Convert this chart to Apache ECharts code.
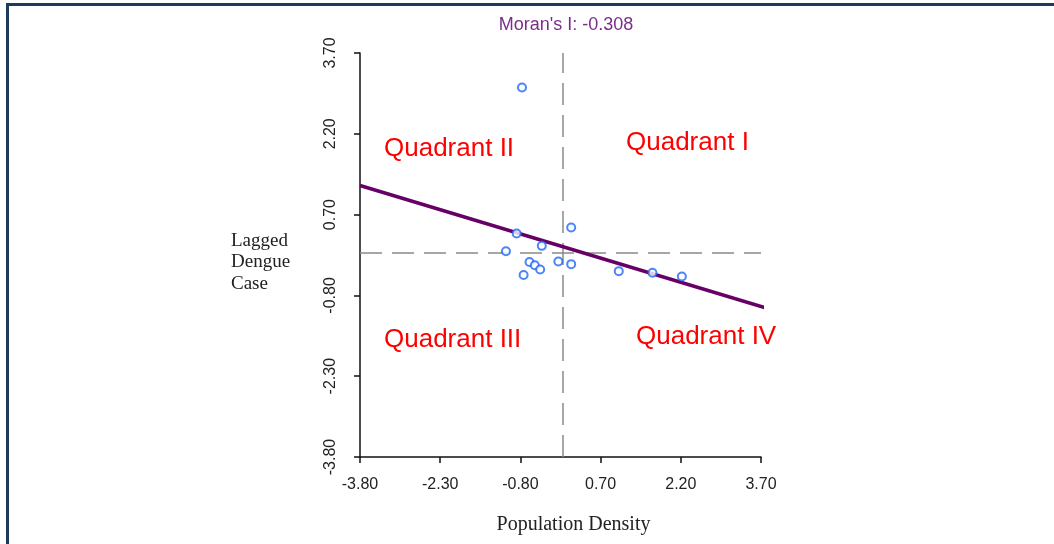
<!DOCTYPE html>
<html>
<head>
<meta charset="utf-8">
<script src="https://cdn.jsdelivr.net/npm/echarts@6/dist/echarts.min.js"></script>
<style>
  html, body { margin: 0; padding: 0; background: #fff; }
  #chart { width: 1054px; height: 544px; }
</style>
</head>
<body>
<div id="chart"></div>
<script>
// 散点：人口密度 (x) 与 滞后登革热病例 (y)
const pointX = [-0.87, -1.07, -0.40, 0.15, -0.63, -0.53, -0.43, -0.74, -0.09, 0.15, 1.04, 1.67, 2.22, -0.77];
const pointY = [0.35, 0.02, 0.12, 0.46, -0.18, -0.24, -0.32, -0.42, -0.17, -0.22, -0.35, -0.38, -0.45, 3.06];
// 回归线两端
const lineX = [-3.8, 3.78];
const lineY = [1.24, -1.03];
// 坐标轴刻度
const tickValues = [-3.8, -2.3, -0.8, 0.7, 2.2, 3.7];
const quadrantNames = ['Quadrant I', 'Quadrant II', 'Quadrant III', 'Quadrant IV'];

const myChart = echarts.init(document.getElementById('chart'));

const axisCommon = {
  type: 'value',
  min: -3.8,
  max: 3.7,
  splitLine: { show: false },
  axisLine: { show: true, onZero: false, lineStyle: { color: '#111', width: 1.5 } },
  axisTick: { show: true, length: 6, customValues: tickValues, lineStyle: { color: '#111', width: 1.5 } },
  axisLabel: {
    customValues: tickValues,
    color: '#222',
    fontFamily: 'Liberation Sans, Arial, sans-serif',
    fontSize: 16,
    formatter: function (v) { return v.toFixed(2); }
  }
};

const redText = {
  fill: '#ff0000',
  fontFamily: 'Liberation Sans, Arial, sans-serif',
  fontSize: 26
};

let option = {
  animation: false,
  backgroundColor: '#fff',
  title: {
    text: "Moran's I: -0.308",
    left: 561,
    top: 11,
    textAlign: 'center',
    textStyle: {
      color: '#7b2d8b',
      fontFamily: 'Liberation Sans, Arial, sans-serif',
      fontSize: 18,
      fontWeight: 'normal'
    }
  },
  grid: { left: 360, right: 293, top: 53, bottom: 87 },
  xAxis: Object.assign({}, axisCommon, {
    name: 'Population Density',
    nameLocation: 'middle',
    nameGap: 58,
    nameTextStyle: {
      color: '#222', fontFamily: 'Liberation Serif, Times New Roman, serif', fontSize: 20,
      padding: [0, 0, 0, 26]
    },
    axisLabel: Object.assign({}, axisCommon.axisLabel, { margin: 20 })
  }),
  yAxis: Object.assign({}, axisCommon, {
    axisLabel: Object.assign({}, axisCommon.axisLabel, { rotate: 90, margin: 21 })
  }),
  graphic: [
    // 外框
    { type: 'rect', shape: { x: 6, y: 3, width: 1060, height: 3 }, style: { fill: '#1f3a5a' } },
    { type: 'rect', shape: { x: 6, y: 3, width: 3, height: 560 }, style: { fill: '#1f3a5a' } },
    {
      type: 'text', left: 231, top: 230,
      style: {
        text: 'Lagged\nDengue\nCase', fill: '#222',
        fontFamily: 'Liberation Serif, Times New Roman, serif', fontSize: 19, lineHeight: 21.5
      }
    },
    { type: 'text', left: 626, top: 130, style: Object.assign({ text: quadrantNames[0] }, redText) },
    { type: 'text', left: 384, top: 136, style: Object.assign({ text: quadrantNames[1] }, redText) },
    { type: 'text', left: 384, top: 327, style: Object.assign({ text: quadrantNames[2] }, redText) },
    { type: 'text', left: 636, top: 324, style: Object.assign({ text: quadrantNames[3] }, redText) }
  ],
  series: [
    {
      type: 'line',
      data: lineX.map((x, i) => [x, lineY[i]]),
      symbol: 'none',
      clip: false,
      lineStyle: { color: '#660066', width: 3.5 },
      z: 3,
      markLine: {
        silent: true,
        symbol: 'none',
        label: { show: false },
        lineStyle: { color: '#8a8a8a', width: 1.5, type: [22, 10] },
        data: [{ xAxis: 0 }, { yAxis: 0 }],
        z: 1
      }
    },
    {
      type: 'scatter',
      data: pointX.map((x, i) => [x, pointY[i]]),
      symbol: 'circle',
      symbolSize: 8,
      itemStyle: { color: '#fff', borderColor: '#1e66f5', borderWidth: 2 },
      z: 4
    }
  ]
};

myChart.setOption(option);
</script>
</body>
</html>
